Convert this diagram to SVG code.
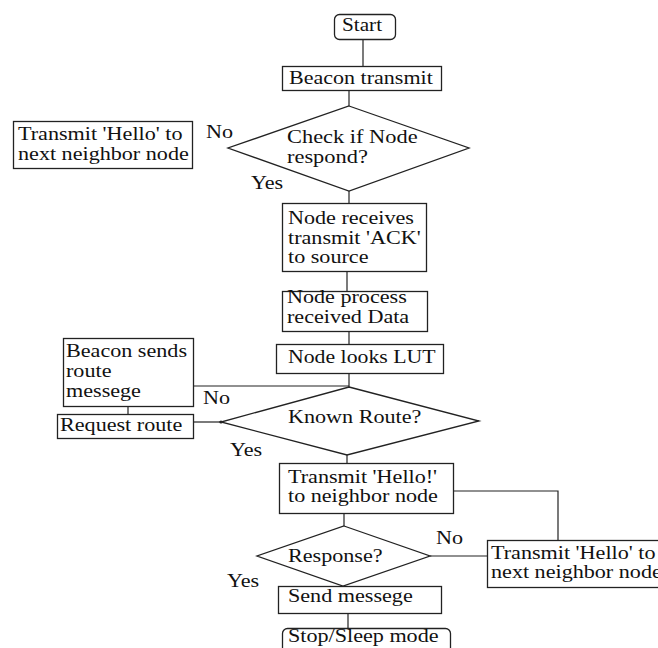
<svg xmlns="http://www.w3.org/2000/svg" width="658" height="648" viewBox="0 0 658 648">
<style>
.box{fill:#fff;stroke:#222;stroke-width:1.3}
.ln{fill:none;stroke:#222;stroke-width:1.2}
text{font-family:"Liberation Serif","Times New Roman",serif;font-size:18px;fill:#111}
</style>
<rect width="658" height="648" fill="#fff"/>
<g id="connectors">
<path class="ln" d="M363,40V66"/>
<path class="ln" d="M349,91V106"/>
<path class="ln" d="M349,191V203"/>
<path class="ln" d="M347,272V291"/>
<path class="ln" d="M349,332V344"/>
<path class="ln" d="M349,374V387"/>
<path class="ln" d="M193,386H349"/>
<path class="ln" d="M128,407V414"/>
<path class="ln" d="M194,422H221"/>
<circle cx="221" cy="422" r="1.6" fill="#222"/>
<path class="ln" d="M347,455V463"/>
<path class="ln" d="M454,491H558V540"/>
<path class="ln" d="M344,514V526"/>
<path class="ln" d="M430,556H487"/>
<path class="ln" d="M348,614V628"/>
<text transform="translate(206,138) scale(1.23 1)">No</text>
<text transform="translate(251,189) scale(1.23 1)">Yes</text>
<text transform="translate(203,404) scale(1.23 1)">No</text>
<text transform="translate(230,456) scale(1.23 1)">Yes</text>
<text transform="translate(436,544) scale(1.23 1)">No</text>
<text transform="translate(227,587) scale(1.23 1)">Yes</text>
</g>
<g id="start">
<rect class="box" x="334.5" y="14.5" width="61" height="25" rx="5"/>
<text transform="translate(342,31) scale(1.18 1)">Start</text>
</g>
<g id="beacon-transmit">
<rect class="box" x="282.5" y="66.5" width="159" height="24"/>
<text transform="translate(289,84) scale(1.225 1)">Beacon transmit</text>
</g>
<g id="check-node">
<polygon class="box" points="349,106 469,148 349,191 228,148"/>
<text transform="translate(287,143) scale(1.245 1)">Check if Node</text>
<text transform="translate(287,163) scale(1.245 1)">respond?</text>
</g>
<g id="hello-next-top">
<rect class="box" x="13.5" y="121.5" width="179" height="47"/>
<text transform="translate(18,140) scale(1.23 1)">Transmit 'Hello' to</text>
<text transform="translate(18,160) scale(1.23 1)">next neighbor node</text>
</g>
<g id="node-receives">
<rect class="box" x="282.5" y="203.5" width="144" height="68"/>
<text transform="translate(288,224) scale(1.23 1)">Node receives</text>
<text transform="translate(288,244) scale(1.23 1)">transmit 'ACK'</text>
<text transform="translate(288,263) scale(1.23 1)">to source</text>
</g>
<g id="node-process">
<rect class="box" x="282.5" y="291.5" width="145" height="40"/>
<text transform="translate(287,303) scale(1.23 1)">Node process</text>
<text transform="translate(287,323) scale(1.23 1)">received Data</text>
</g>
<g id="node-looks">
<rect class="box" x="276.5" y="344.5" width="167" height="29"/>
<text transform="translate(288,363) scale(1.21 1)">Node looks LUT</text>
</g>
<g id="beacon-sends">
<rect class="box" x="63.5" y="338.5" width="130" height="68"/>
<text transform="translate(66,357) scale(1.23 1)">Beacon sends</text>
<text transform="translate(66,377) scale(1.23 1)">route</text>
<text transform="translate(66,397) scale(1.23 1)">messege</text>
</g>
<g id="request-route">
<rect class="box" x="57.5" y="414.5" width="136" height="24"/>
<text transform="translate(60,431) scale(1.23 1)">Request route</text>
</g>
<g id="known-route">
<polygon class="box" points="349,387 479,421 347,455 221,422"/>
<text transform="translate(288,423) scale(1.23 1)">Known Route?</text>
</g>
<g id="transmit-hello">
<rect class="box" x="279.5" y="463.5" width="174" height="50"/>
<text transform="translate(288,483) scale(1.23 1)">Transmit 'Hello!'</text>
<text transform="translate(288,502) scale(1.23 1)">to neighbor node</text>
</g>
<g id="response">
<polygon class="box" points="344,526 430,556 343,586 257,556"/>
<text transform="translate(288,562) scale(1.23 1)">Response?</text>
</g>
<g id="hello-next-right">
<rect class="box" x="487.5" y="540.5" width="175" height="47"/>
<text transform="translate(491,559) scale(1.23 1)">Transmit 'Hello' to</text>
<text transform="translate(491,578) scale(1.23 1)">next neighbor node</text>
</g>
<g id="send-message">
<rect class="box" x="278.5" y="586.5" width="163" height="27"/>
<text transform="translate(288,602) scale(1.23 1)">Send messege</text>
</g>
<g id="stop-sleep">
<rect class="box" x="282.5" y="628.5" width="168" height="30" rx="5"/>
<text transform="translate(288,642) scale(1.23 1)">Stop/Sleep mode</text>
</g>
</svg>
